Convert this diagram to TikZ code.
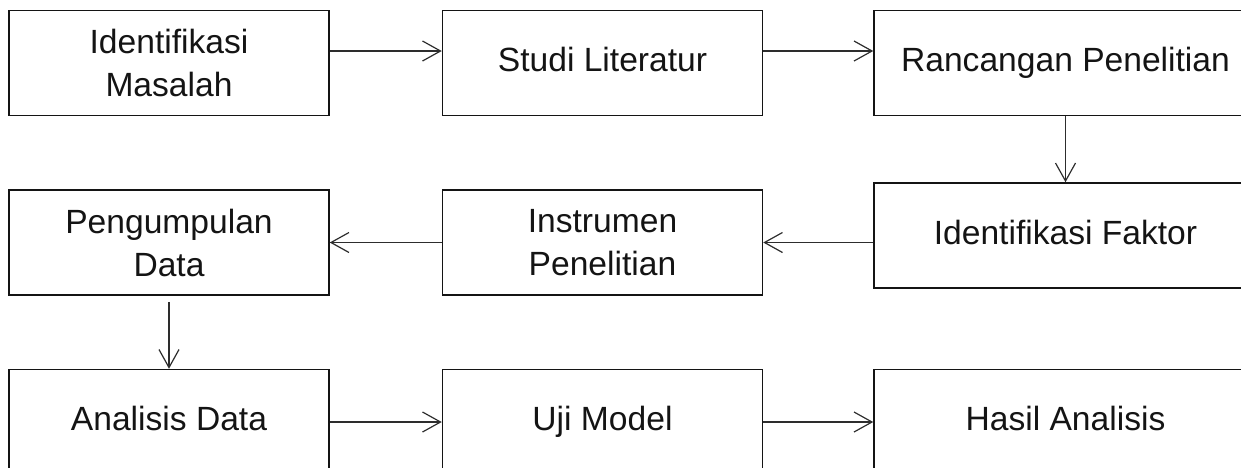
\documentclass[tikz,border=0pt]{standalone}
\usepackage{fontspec}
\setmainfont{Liberation Sans}
\usetikzlibrary{positioning,arrows.meta}
\definecolor{ink}{RGB}{20,20,20}
\definecolor{line}{RGB}{45,45,45}
\tikzset{
  box/.style={draw=ink, line width=0.75pt, align=center, text=ink,
              minimum width=160pt, minimum height=52.5pt, inner sep=0pt,
              font=\fontsize{16.8}{21.5}\selectfont},
  onebox/.style={box, execute at begin node=\strut},
  wbox/.style={onebox, minimum width=191.5pt},
  arr/.style={-{Straight Barb[length=9pt, width=10pt, line width=0.6pt]},
              line width=0.65pt, draw=line},
}
\begin{document}
\begin{tikzpicture}[node distance=36.5pt and 55.5pt]
  \useasboundingbox (0,0) rectangle (620.5pt,-233.5pt);

  % first row
  \node[box] (idm) at (84.5pt,-31.5pt) {Identifikasi\\Masalah};
  \node[onebox, right=56pt of idm] (stl) {Studi Literatur};
  \node[wbox, right=55pt of stl] (rp) {Rancangan Penelitian};

  % second row
  \node[box, below=of idm] (pgd) {Pengumpulan\\Data};
  \node[box, below=of stl] (ins) {Instrumen\\Penelitian};
  \node[wbox, below=33pt of rp] (idf) {Identifikasi Faktor};

  % third row
  \node[onebox, below=of pgd] (ana) {Analisis Data};
  \node[onebox, below=of ins] (uji) {Uji Model};
  \node[wbox] (has) at (rp |- uji) {Hasil Analisis};

  \draw[arr] ([yshift=6pt]idm.east) -- ([yshift=6pt]stl.west);
  \draw[arr] ([yshift=6pt]stl.east) -- ([yshift=6pt]rp.west);
  \draw[arr] (rp) -- (idf);
  \draw[arr] (idf.west |- ins.east) -- (ins.east);
  \draw[arr] (ins) -- (pgd);
  \draw[arr, shorten <=3pt] (pgd) -- (ana);
  \draw[arr] (ana) -- (uji);
  \draw[arr] (uji) -- (has);
\end{tikzpicture}
\end{document}
